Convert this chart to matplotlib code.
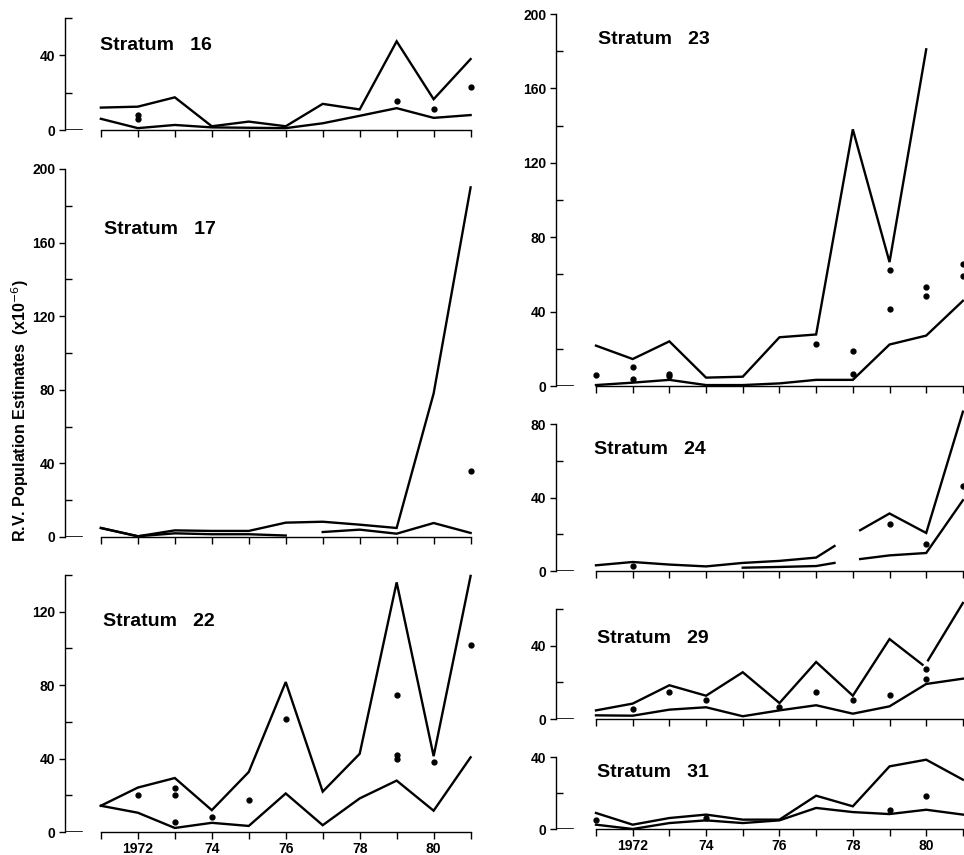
import matplotlib.pyplot as plt
import numpy as np

plt.rcParams['font.family'] = ['Liberation Sans', 'DejaVu Sans']

years = np.arange(1971, 1982)
year_labels = ['', '1972', '', '74', '', '76', '', '78', '', '80', '']

# Stratum 16
s16_upper = [12, 12.5, 17.5, 2, 4.5, 2, 14, 11, 47.5, 16.5, 38]
s16_lower = [6, 1, 2.7, 1.4, 1.2, 1, 3.6, 7.6, 11.7, 6.5, 8]
s16_dot_x = [1972, 1972, 1979, 1980, 1981]
s16_dot_y = [6, 8, 15.5, 11, 23]

# Stratum 17
s17_upper = [4.9, 0.4, 3.6, 3.3, 3.3, 7.8, 8.3, 6.7, 4.9, 78, 190]
s17_lower_a_x = [1971, 1972, 1973, 1974, 1975, 1976]
s17_lower_a = [4.9, 0.4, 2.0, 1.5, 1.5, 0.8]
s17_lower_b_x = [1977, 1978, 1979, 1980, 1981]
s17_lower_b = [2.7, 4.0, 1.8, 7.6, 2.2]
s17_dot_x = [1981]
s17_dot_y = [36]

# Stratum 22
s22_upper = [14.3, 24.2, 29.4, 11.9, 32.7, 81.7, 22, 42.6, 136, 41.3, 139.5]
s22_lower = [14.3, 10.5, 2.2, 5, 3.3, 21, 3.7, 18.3, 28, 11.6, 40.7]
s22_dot_x = [1972, 1973, 1973, 1973, 1974, 1975, 1976, 1979, 1979, 1979, 1980, 1981]
s22_dot_y = [20.2, 23.9, 20.2, 5.5, 8.3, 17.4, 61.8, 74.9, 42.2, 39.8, 38, 101.8]

# Stratum 23
s23_upper = [21.7, 14.5, 24, 4.5, 5, 26.2, 27.7, 138, 66.6, 181, np.nan]
s23_lower = [0.5, 1.8, 3.3, 0.5, 0.5, 1.4, 3.3, 3.3, 22.3, 27.1, 45.8]
s23_dot_x = [1971, 1972, 1972, 1973, 1973, 1977, 1978, 1978, 1979, 1979, 1980, 1980, 1981, 1981]
s23_dot_y = [6, 10, 3.8, 6.5, 5.4, 22.8, 18.6, 6.5, 62.4, 41.3, 53, 48.5, 65.7, 59.4]

# Stratum 24
s24_upper_a_x = [1971, 1972, 1973, 1974, 1975, 1976, 1977, 1977.5]
s24_upper_a = [3.1, 4.9, 3.5, 2.5, 4.4, 5.5, 7.3, 13.6]
s24_upper_b_x = [1978.2, 1979, 1980, 1981]
s24_upper_b = [22.2, 31.3, 20.7, 86.7]
s24_lower_a_x = [1975, 1976, 1977, 1977.5]
s24_lower_a = [1.8, 2.2, 2.7, 4.4]
s24_lower_b_x = [1978.2, 1979, 1980, 1981]
s24_lower_b = [6.5, 8.5, 9.8, 38.5]
s24_dot_x = [1972, 1979, 1980, 1981]
s24_dot_y = [2.5, 25.8, 14.5, 46]

# Stratum 29
s29_upper_a_x = [1971, 1972, 1973, 1974, 1975, 1976, 1977, 1978, 1979, 1979.9]
s29_upper_a = [4.7, 8.4, 18.4, 12.7, 25.5, 8.7, 31.1, 12.7, 43.6, 29.6]
s29_upper_b_x = [1980.05, 1981]
s29_upper_b = [32, 63.3]
s29_lower = [2, 1.8, 5.1, 6.4, 1.5, 4.7, 7.5, 2.9, 6.9, 19.1, 22]
s29_dot_x = [1972, 1973, 1974, 1976, 1977, 1978, 1979, 1980, 1980]
s29_dot_y = [5.6, 14.5, 10.5, 6.4, 14.7, 10.5, 12.9, 27.3, 21.8]

# Stratum 31
s31_upper = [8.9, 2.4, 6.1, 8, 5.2, 5.2, 18.5, 12.6, 34.8, 38.5, 27.4]
s31_lower = [2.4, 0, 3.3, 4.8, 3.3, 4.8, 11.7, 9.4, 8.3, 10.7, 8]
s31_dot_x = [1971, 1974, 1979, 1980]
s31_dot_y = [4.8, 6.1, 10.4, 18.1]

W, H = 964, 855
fig = plt.figure(figsize=(W / 100, H / 100), dpi=100)


def make_axes(left, right, top, bottom, xlim, ymax, show_years):
    ax = fig.add_axes([left / W, 1 - bottom / H, (right - left) / W, (bottom - top) / H])
    ax.set_xlim(*xlim)
    ax.set_ylim(0, ymax)
    for s in ['top', 'right']:
        ax.spines[s].set_visible(False)
    ax.spines['bottom'].set_bounds(1971, 1981)
    ax.spines['left'].set_linewidth(1.0)
    ax.spines['bottom'].set_linewidth(1.0)
    ax.set_yticks(np.arange(0, ymax + 1, 40))
    ax.set_yticks(np.arange(20, ymax + 1, 40), minor=True)
    ax.tick_params(axis='y', which='major', direction='out', length=4, width=1,
                   labelsize=10, pad=3)
    ax.tick_params(axis='y', which='minor', direction='in', length=5, width=1)
    for lab in ax.get_yticklabels():
        lab.set_fontweight('bold')
    ax.set_xticks(years)
    if show_years:
        ax.set_xticklabels(year_labels, fontsize=10, fontweight='bold')
    else:
        ax.set_xticklabels([])
    ax.tick_params(axis='x', direction='out', length=5, width=1, pad=2)
    ax.axhline(0, xmin=0, xmax=0.042, color='black', lw=1.2)
    ax.patch.set_alpha(0)
    return ax


def draw(ax, x, y):
    ax.plot(x, y, color='black', lw=1.7, clip_on=False, solid_joinstyle='miter')


def dots(ax, x, y):
    ax.plot(x, y, 'o', color='black', ms=3.5, clip_on=False)


def title(x, y, s):
    fig.text(x / W, 1 - y / H, s, fontsize=14, fontweight='bold', va='center', ha='left')


left_x = (1970.03, 1981.2)
right_x = (1969.91, 1981.03)

ax16 = make_axes(65, 478, 18, 130, left_x, 60, False)
draw(ax16, years, s16_upper)
draw(ax16, years, s16_lower)
dots(ax16, s16_dot_x, s16_dot_y)
title(100, 45, 'Stratum   16')

ax17 = make_axes(65, 478, 169, 537, left_x, 200, False)
draw(ax17, years, s17_upper)
draw(ax17, s17_lower_a_x, s17_lower_a)
draw(ax17, s17_lower_b_x, s17_lower_b)
dots(ax17, s17_dot_x, s17_dot_y)
title(104, 230, 'Stratum   17')

ax22 = make_axes(65, 478, 575, 832, left_x, 140, True)
draw(ax22, years, s22_upper)
draw(ax22, years, s22_lower)
dots(ax22, s22_dot_x, s22_dot_y)
title(103, 621, 'Stratum   22')

ax23 = make_axes(556, 964, 14, 386, right_x, 200, False)
draw(ax23, years, s23_upper)
draw(ax23, years, s23_lower)
dots(ax23, s23_dot_x, s23_dot_y)
title(598, 39, 'Stratum   23')

ax24 = make_axes(556, 964, 424, 571, right_x, 80, False)
draw(ax24, s24_upper_a_x, s24_upper_a)
draw(ax24, s24_upper_b_x, s24_upper_b)
draw(ax24, s24_lower_a_x, s24_lower_a)
draw(ax24, s24_lower_b_x, s24_lower_b)
dots(ax24, s24_dot_x, s24_dot_y)
title(594, 449, 'Stratum   24')

ax29 = make_axes(556, 964, 609, 719, right_x, 60, False)
draw(ax29, s29_upper_a_x, s29_upper_a)
draw(ax29, s29_upper_b_x, s29_upper_b)
draw(ax29, years, s29_lower)
dots(ax29, s29_dot_x, s29_dot_y)
title(597, 638, 'Stratum   29')

ax31 = make_axes(556, 964, 757, 829, right_x, 40, True)
draw(ax31, years, s31_upper)
draw(ax31, years, s31_lower)
dots(ax31, s31_dot_x, s31_dot_y)
title(597, 772, 'Stratum   31')

fig.text(20 / W, 1 - 411 / H, 'R.V. Population Estimates  (x10$^{-6}$)', rotation=90,
         fontsize=11.5, fontweight='bold', va='center', ha='center')

fig.savefig('out.png', dpi=100)
